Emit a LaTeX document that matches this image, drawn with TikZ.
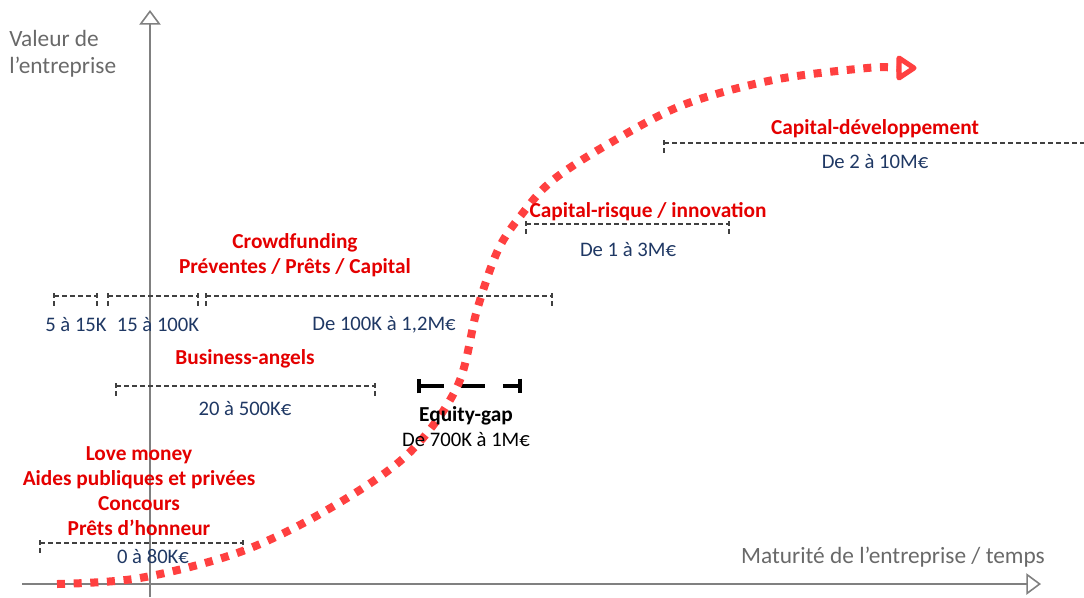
\documentclass[tikz,border=0pt]{standalone}
\usepackage{fontspec}
\setmainfont{Carlito}
\usepackage{tikz}
\usetikzlibrary{arrows.meta}

\definecolor{fundred}{RGB}{228,0,0}
\definecolor{trendred}{RGB}{255,64,64}
\definecolor{navy}{RGB}{31,56,100}
\definecolor{axisgray}{RGB}{128,128,128}
\definecolor{labelgray}{RGB}{105,105,105}
\definecolor{spangray}{RGB}{64,64,64}

\tikzset{
  axis/.style={color=axisgray, line width=1.5pt, -{Triangle[open, length=11pt, width=16pt, line width=1.2pt]}},
  axislabel/.style={text=labelgray, font=\fontsize{17.5}{20.5}\selectfont, inner sep=0pt},
  fundname/.style={text=fundred, font=\fontsize{16}{18.75}\selectfont\bfseries, inner sep=0pt, align=center},
  amount/.style={text=navy, font=\fontsize{15.5}{18}\selectfont, inner sep=0pt},
  spanline/.style={color=spangray, line width=0.8pt, dash pattern={on 3.6pt off 2.4pt}},
  trend/.style={color=trendred, line width=6pt, dash pattern={on 6pt off 6.5pt}},
  trendhead/.style={color=trendred, line width=3.8pt, line join=round},
}

\begin{document}
\begin{tikzpicture}[x=0.75pt,y=0.75pt,yscale=-1,xscale=1]
\useasboundingbox (0,0) rectangle (1084,597);

%Axes
\draw [axis] (150,597) -- (150,10) ;
\draw [axis] (22,584) -- (1041,584) ;

%Span lines: Love money
\draw [spanline] (40,543) -- (243,543) ;
\draw [spanline] (40,540) -- (40,553) ;
\draw [spanline] (243,540) -- (243,553) ;
%Span lines: Business-angels
\draw [spanline] (116,386) -- (375,386) ;
\draw [spanline] (116,383) -- (116,396) ;
\draw [spanline] (375,383) -- (375,396) ;
%Span lines: Crowdfunding
\draw [spanline] (54,296) -- (97,296) ;
\draw [spanline] (54,293) -- (54,306) ;
\draw [spanline] (97,293) -- (97,306) ;
\draw [spanline] (108,296) -- (198,296) ;
\draw [spanline] (108,293) -- (108,306) ;
\draw [spanline] (198,293) -- (198,306) ;
\draw [spanline] (206,296) -- (552,296) ;
\draw [spanline] (206,293) -- (206,306) ;
\draw [spanline] (552,293) -- (552,306) ;
%Span lines: Capital-risque
\draw [spanline] (526,224) -- (729,224) ;
\draw [spanline] (526,221) -- (526,234) ;
\draw [spanline] (729,221) -- (729,234) ;
%Span lines: Capital-developpement
\draw [spanline] (664,143) -- (1084,143) ;
\draw [spanline] (664,140) -- (664,153) ;

%Equity gap
\draw [line width=3pt, dash pattern={on 18pt off 13.1pt}, {Bar[width=11pt, line width=3pt]}-{Bar[width=11pt, line width=3pt]}] (417,386) -- (522,386) ;

%Curve Lines
\draw [trend] plot [smooth, tension=0.55] coordinates {(57,584) (140,578) (240,552) (327,510) (407,455) (457,387) (477,310) (498,250) (522,214) (553,180) (610,143) (683,105) (773,80) (867,68) (899,68)} ;
%Arrow head of the curve
\draw [trendhead] (899,58) -- (914,68) -- (899,78) -- cycle ;

% Text Nodes
\node [axislabel, anchor=west, align=left] (valeur) at (9,54) {Valeur de\\l’entreprise};
\node [axislabel] (maturite) at (893,557) {Maturité de l’entreprise / temps};

\node [fundname] (capdev) at (875,129) {Capital-développement};
\node [amount] (capdevamt) at (875,162) {De 2 à 10M€};

\node [fundname] (caprisque) at (648,212) {Capital-risque / innovation};
\node [amount] (caprisqueamt) at (628,250) {De 1 à 3M€};

\node [fundname] (crowd) at (295,255) {Crowdfunding\\Préventes / Prêts / Capital};
\node [amount] (crowdsmall) at (76,325) {5 à 15K};
\node [amount] (crowdmid) at (158,325) {15 à 100K};
\node [amount] (crowdbig) at (384,325) {De 100K à 1,2M€};

\node [fundname] (angels) at (245,359) {Business-angels};
\node [amount] (angelsamt) at (245,409) {20 à 500K€};

\node [fundname, text=black] (equity) at (466,416) {Equity-gap};
\node [amount, text=black] (equityamt) at (466,440) {De 700K à 1M€};

\node [fundname] (love) at (139,491) {Love money\\Aides publiques et privées\\Concours\\Prêts d’honneur};
\node [amount] (loveamt) at (153,557) {0 à 80K€};

\end{tikzpicture}
\end{document}
